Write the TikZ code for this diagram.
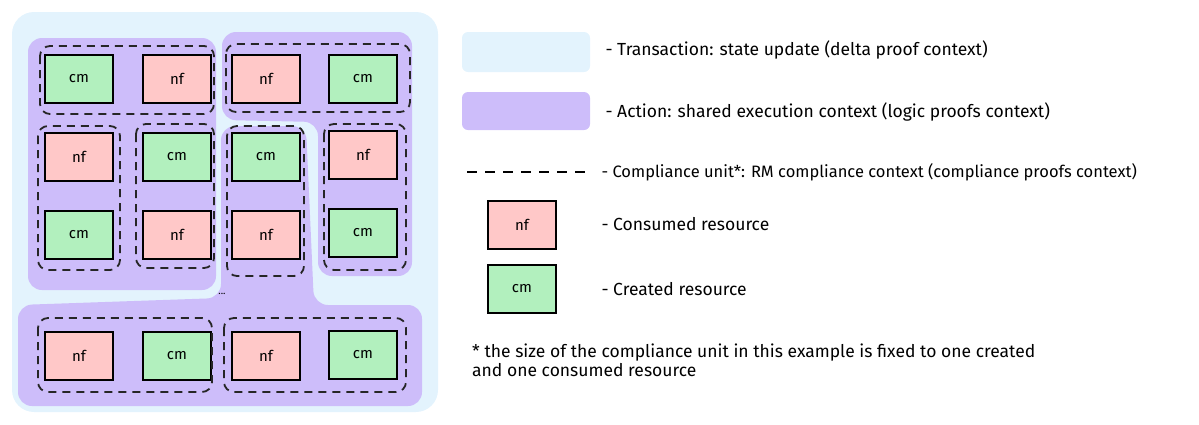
\documentclass[tikz,border=0pt]{standalone}
\usepackage{fontspec}
\setmainfont{Fira Sans}
\usetikzlibrary{positioning}
\definecolor{txbg}{HTML}{E3F3FD}
\definecolor{actbg}{HTML}{CDBDFA}
\definecolor{nfcol}{HTML}{FFC8C8}
\definecolor{cmcol}{HTML}{B2F0BE}

\begin{document}
\begin{tikzpicture}[
x=1pt, y=-1pt,
nfbox/.style ={rectangle, draw=black, line width=2pt, fill=nfcol,
  minimum width=68pt, minimum height=48pt, font=\fontsize{15}{17}\selectfont},
cmbox/.style ={rectangle, draw=black, line width=2pt, fill=cmcol,
  minimum width=68pt, minimum height=48pt, font=\fontsize{15}{17}\selectfont},
unit/.style ={draw=black!85, line width=1.8pt, rounded corners=10pt, dash pattern=on 8pt off 6pt},
action/.style ={fill=actbg, rounded corners=14pt},
legend/.style ={anchor=west, font=\fontsize{17.5}{21}\selectfont}
]
\useasboundingbox (0,0) rectangle (1199,424);

% transaction and actions
\fill[txbg, rounded corners=22pt] (12,12) rectangle (438,412);
\fill[action] (28,38) rectangle (216,290);
\fill[action] (222,32) -- (412,32) -- (412,276) -- (318,276) -- (318,122) -- (222,120) -- cycle;
\fill[action] (221,126) -- (306,126) -- (314,305) -- (422,305) -- (422,406) -- (18,406)
  -- (18,305) -- (221,298) -- cycle;

% resources
\node[cmbox] (c11) at (79,79) {cm};
\node[nfbox] (n12) at (177,79) {nf};
\node[nfbox] (n13) at (266,79) {nf};
\node[cmbox] (c14) at (363,79) {cm};
\node[nfbox] (n21) at (79,157) {nf};
\node[cmbox] (c22) at (177,157) {cm};
\node[cmbox] (c23) at (266,157) {cm};
\node[nfbox] (n24) at (363,155) {nf};
\node[cmbox] (c31) at (79,235) {cm};
\node[nfbox] (n32) at (177,235) {nf};
\node[nfbox] (n33) at (266,235) {nf};
\node[cmbox] (c34) at (363,233) {cm};
\node[nfbox] (n41) at (79,356) {nf};
\node[cmbox] (c42) at (177,356) {cm};
\node[nfbox] (n43) at (266,356) {nf};
\node[cmbox] (c44) at (363,355) {cm};
\node (dots) at (222,294) {...};

% compliance units
\draw[unit] (40,46) rectangle (214,114);
\draw[unit] (226,44) rectangle (410,112);
\draw[unit] (38,126) rectangle (120,270);
\draw[unit] (136,124) rectangle (214,268);
\draw[unit] (227,126) rectangle (304,276);
\draw[unit] (324,124) rectangle (406,270);
\draw[unit] (38,318) rectangle (212,392);
\draw[unit] (224,318) rectangle (406,392);

% legend
\fill[txbg, rounded corners=6pt] (462,32) rectangle (590,72);
\node[legend] (ltx) at (602,50) {- Transaction: state update (delta proof context)};
\fill[actbg, rounded corners=6pt] (462,92) rectangle (590,130);
\node[legend] (lact) at (602,112) {- Action: shared execution context (logic proofs context)};
\coordinate (dl) at (467,172);
\coordinate (dr) at (590,172);
\draw[line width=2pt, dash pattern=on 10pt off 8pt] (dl) -- (dr);
\node[legend, font=\fontsize{16.5}{20}\selectfont] (lcu) at (598,172) {- Compliance unit*: RM compliance context (compliance proofs context)};
\node[nfbox] (lnf) at (522,225) {nf};
\node[legend] (lcons) at (598,224) {- Consumed resource};
\node[cmbox] (lcm) at (522,289) {cm};
\node[legend] (lcre) at (598,289) {- Created resource};
\node[anchor=north west, font=\fontsize{17.5}{19}\selectfont, align=left, inner sep=0pt] (note) at (472,344)
  {* the size of the compliance unit in this example is fixed to one created\\and one consumed resource};
\end{tikzpicture}
\end{document}
